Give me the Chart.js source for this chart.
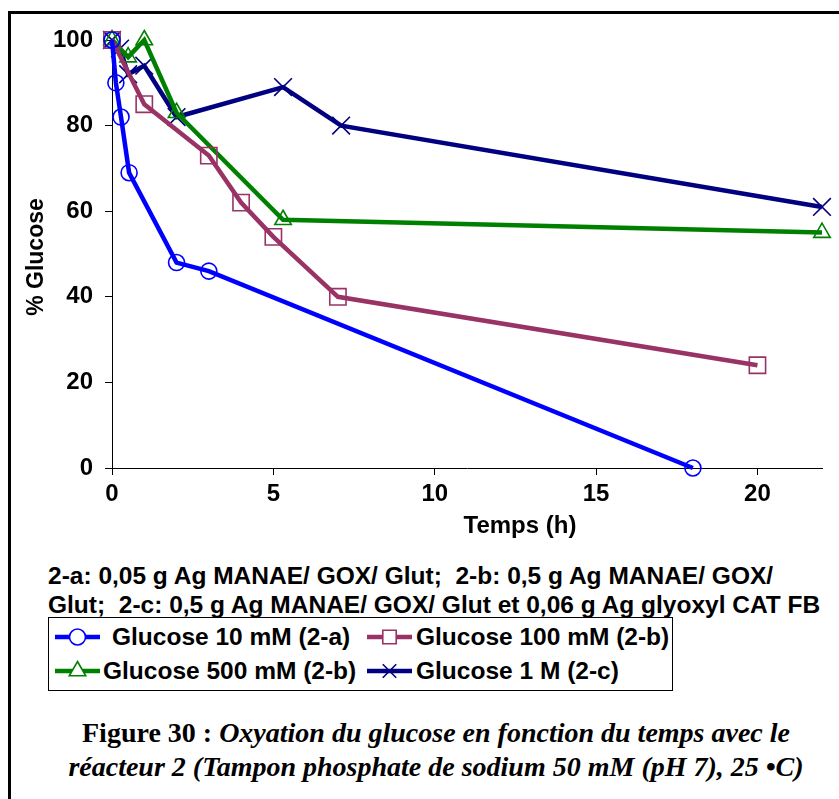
<!DOCTYPE html>
<html>
<head>
<meta charset="utf-8">
<script src="https://cdn.jsdelivr.net/npm/chart.js@4/dist/chart.umd.min.js"></script>
<style>
  html, body { margin: 0; padding: 0; background: #fff; }
  body { width: 839px; height: 799px; position: relative; overflow: hidden; font-family: "Liberation Sans", Arial, sans-serif; }
  .frame { position: absolute; left: 8px; top: 11px; width: 900px; height: 900px; border-left: 3px solid #000; border-top: 3px solid #000; box-shadow: 0 1px 0 #999; }
  #chart { position: absolute; left: 0; top: 0; }
  .notes { position: absolute; left: 48px; top: 561px; font-weight: bold; font-size: 24.5px; line-height: 29px; white-space: pre; color: #000; }
  .legend { position: absolute; left: 48px; top: 617px; width: 625px; height: 74px; border: 1px solid #000; box-sizing: border-box; }
  .legend .item { position: absolute; display: flex; align-items: center; font-weight: bold; font-size: 24.5px; height: 32px; white-space: pre; }
  .legend canvas { display: block; }
  .caption { position: absolute; left: 0; width: 872px; top: 716px; text-align: center; font-family: "Liberation Serif", "Times New Roman", serif; font-weight: bold; font-size: 28px; line-height: 34px; color: #000; }
  .caption i { font-style: italic; }
</style>
</head>
<body>
<div class="frame"></div>
<canvas id="chart" width="839" height="545"></canvas>
<div class="notes">2-a: 0,05 g Ag MANAE/ GOX/ Glut;  2-b: 0,5 g Ag MANAE/ GOX/
Glut;  2-c: 0,5 g Ag MANAE/ GOX/ Glut et 0,06 g Ag glyoxyl CAT FB</div>
<div class="legend" id="legend"></div>
<div class="caption">Figure 30 : <i>Oxyation du glucose en fonction du temps avec le<br>réacteur 2 (Tampon phosphate de sodium 50 mM (pH 7), 25 •C)</i></div>
<script>
// Time (h) and remaining glucose (%) for each run
const time10mM  = [0, 0.12, 0.28, 0.53, 2, 3, 18];
const glu10mM   = [100, 90, 82, 69, 48, 46, 0];
const time100mM = [0, 1, 3, 4, 5, 7, 20];
const glu100mM  = [100, 85, 73, 62, 54, 40, 24];
const time500mM = [0, 0.5, 1, 2, 5.3, 22];
const glu500mM  = [100, 96, 100, 83, 58, 55];
const time1M    = [0, 0.25, 0.5, 1, 2, 5.3, 7.1, 22];
const glu1M     = [100, 98, 92, 94, 82, 89, 80, 61];

const seriesLabels = ['Glucose 10 mM (2-a)', 'Glucose 100 mM (2-b)', 'Glucose 500 mM (2-b)', 'Glucose 1 M (2-c)'];
const xTickValues = [0, 5, 10, 15, 20];
const yTickValues = [0, 20, 40, 60, 80, 100];
const xTitle = 'Temps (h)';
const yTitle = '% Glucose';

const pairs = (xs, ys) => xs.map((x, i) => ({ x: x, y: ys[i] }));

const styles = [
  { color: '#0000FF', pointStyle: 'circle',   pointRadius: 8 },
  { color: '#993366', pointStyle: 'rect',     pointRadius: 11.5 },
  { color: '#008000', pointStyle: 'triangle', pointRadius: 9.5 },
  { color: '#000080', pointStyle: 'crossRot', pointRadius: 12.5 }
];
const seriesData = [pairs(time10mM, glu10mM), pairs(time100mM, glu100mM), pairs(time500mM, glu500mM), pairs(time1M, glu1M)];

const datasets = seriesData.map((d, i) => ({
  label: seriesLabels[i],
  data: d,
  borderColor: styles[i].color,
  backgroundColor: 'rgba(0,0,0,0)',
  borderWidth: 4.5,
  pointStyle: styles[i].pointStyle,
  pointRadius: styles[i].pointRadius,
  pointBorderWidth: 1.6,
  pointBorderColor: styles[i].color,
  pointBackgroundColor: 'rgba(0,0,0,0)',
  tension: 0,
  clip: false
}));

const tickFont = { family: '"Liberation Sans", Arial, sans-serif', size: 24, weight: 'bold' };

const axisTitles = {
  id: 'axisTitles',
  afterDraw(chart) {
    const ctx = chart.ctx;
    ctx.save();
    ctx.fillStyle = '#000';
    ctx.textAlign = 'center';
    ctx.textBaseline = 'middle';
    ctx.font = 'bold 24px "Liberation Sans", Arial, sans-serif';
    ctx.fillText(xTitle, 520, 526);
    ctx.font = 'bold 23px "Liberation Sans", Arial, sans-serif';
    ctx.translate(37, 257);
    ctx.rotate(-Math.PI / 2);
    ctx.fillText(yTitle, 0, 0);
    ctx.restore();
  }
};

new Chart(document.getElementById('chart'), {
  type: 'line',
  data: { datasets: datasets },
  plugins: [axisTitles],
  options: {
    responsive: false,
    animation: false,
    devicePixelRatio: 1,
    layout: { padding: { left: 0, top: 40, right: 17, bottom: 0 } },
    plugins: { legend: { display: false }, tooltip: { enabled: false } },
    scales: {
      x: {
        type: 'linear', min: 0, max: 22,
        afterBuildTicks: s => { s.ticks = xTickValues.map(v => ({ value: v })); },
        afterFit: s => { s.height = 77; },
        grid: { display: true, drawOnChartArea: false, drawTicks: true, tickLength: 7, color: '#000', lineWidth: 1 },
        border: { display: true, color: '#000', width: 1 },
        ticks: { color: '#000', font: tickFont, padding: 5, maxRotation: 0, autoSkip: false }
      },
      y: {
        type: 'linear', min: 0, max: 100,
        afterBuildTicks: s => { s.ticks = yTickValues.map(v => ({ value: v })); },
        afterFit: s => { s.width = 112; },
        grid: { display: true, drawOnChartArea: false, drawTicks: true, tickLength: 7, color: '#000', lineWidth: 1 },
        border: { display: true, color: '#000', width: 1 },
        ticks: { color: '#000', font: tickFont, padding: 12, autoSkip: false }
      }
    }
  }
});

// Legend entries: line sample with the series marker, laid out two per row
function drawMarker(ctx, style, x, y, r, color) {
  ctx.strokeStyle = color;
  ctx.lineWidth = 1.6;
  ctx.beginPath();
  if (style === 'circle') {
    ctx.arc(x, y, r, 0, Math.PI * 2);
    ctx.fillStyle = '#fff'; ctx.fill();
  } else if (style === 'rect') {
    const s = Math.SQRT1_2 * r;
    ctx.rect(x - s, y - s, 2 * s, 2 * s);
    ctx.fillStyle = '#fff'; ctx.fill();
  } else if (style === 'triangle') {
    for (let k = 0; k < 3; k++) {
      const a = k * 2 * Math.PI / 3;
      const px = x + Math.sin(a) * r, py = y - Math.cos(a) * r;
      if (k === 0) ctx.moveTo(px, py); else ctx.lineTo(px, py);
    }
    ctx.closePath();
    ctx.fillStyle = '#fff'; ctx.fill();
  } else if (style === 'crossRot') {
    const o = Math.SQRT1_2 * r;
    ctx.moveTo(x - o, y - o); ctx.lineTo(x + o, y + o);
    ctx.moveTo(x - o, y + o); ctx.lineTo(x + o, y - o);
  }
  ctx.stroke();
}

const legendPos = [
  { left: 6,   top: 3,  gap: 12 },
  { left: 318, top: 3,  gap: 4 },
  { left: 6,   top: 37, gap: 3 },
  { left: 318, top: 37, gap: 4 }
];
const legendEl = document.getElementById('legend');
seriesLabels.forEach((label, i) => {
  const item = document.createElement('div');
  item.className = 'item';
  item.style.left = legendPos[i].left + 'px';
  item.style.top = legendPos[i].top + 'px';
  const c = document.createElement('canvas');
  c.width = 45; c.height = 32;
  c.style.marginRight = legendPos[i].gap + 'px';
  const ctx = c.getContext('2d');
  ctx.strokeStyle = styles[i].color;
  ctx.lineWidth = 4.5;
  ctx.beginPath(); ctx.moveTo(0, 16); ctx.lineTo(45, 16); ctx.stroke();
  drawMarker(ctx, styles[i].pointStyle, 22.5, 16, Math.min(styles[i].pointRadius, 9.5), styles[i].color);
  item.appendChild(c);
  const span = document.createElement('span');
  span.textContent = label;
  item.appendChild(span);
  legendEl.appendChild(item);
});
</script>
</body>
</html>
